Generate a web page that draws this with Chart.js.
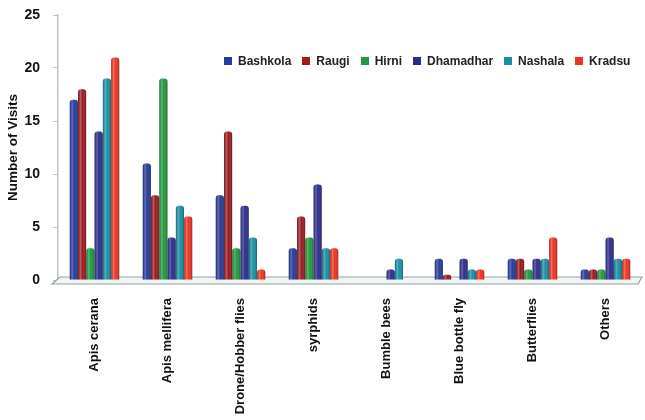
<!DOCTYPE html>
<html>
<head>
<meta charset="utf-8">
<script src="https://cdn.jsdelivr.net/npm/chart.js@4/dist/chart.umd.min.js"></script>
<style>
  html,body{margin:0;padding:0;background:#fff;}
  #wrap{position:relative;width:645px;height:420px;overflow:hidden;}
  #legend{position:absolute;left:224px;top:54px;display:flex;gap:11px;font:bold 12px "Liberation Sans",Arial,sans-serif;color:#222;}
  .lg{display:flex;align-items:center;}
  .lg i{display:inline-block;width:8px;height:8px;margin-right:6px;}
</style>
</head>
<body>
<div id="wrap">
  <canvas id="visits" width="645" height="420"></canvas>
  <div id="legend"></div>
</div>
<script>
// visitor groups on the x axis
const categories=['Apis cerana','Apis mellifera','Drone/Hobber flies','syrphids','Bumble bees','Blue bottle fly','Butterflies','Others'];

// visits per site
const bashkola =[17,11,8,3,0,2,2,1];
const raugi    =[18,8,14,6,0,0.5,2,1];
const hirni    =[3,19,3,4,0,0,1,1];
const dhamadhar=[14,4,7,9,1,2,2,4];
const nashala  =[19,7,4,3,2,1,2,2];
const kradsu   =[21,6,1,3,0,1,4,2];

const yTicks=[0,5,10,15,20,25];

const series=[
  {label:'Bashkola', data:bashkola, color:'#253a9c'},
  {label:'Raugi', data:raugi, color:'#9c1c22'},
  {label:'Hirni', data:hirni, color:'#1f9a3e'},
  {label:'Dhamadhar', data:dhamadhar, color:'#2b2b8e'},
  {label:'Nashala', data:nashala, color:'#1690a6'},
  {label:'Kradsu', data:kradsu, color:'#ef3322'}
];

const FONT='"Liberation Sans", Arial, sans-serif';

document.getElementById('legend').innerHTML=series.map(s=>
  `<span class="lg"><i style="background:${s.color}"></i>${s.label}</span>`).join('');

// grey 3d floor under the bars
const floorPlugin={
  id:'floor',
  beforeDatasetsDraw(chart){
    const {ctx,chartArea:a}=chart;
    ctx.save();
    ctx.beginPath();
    ctx.moveTo(a.left-6,a.bottom+4);
    ctx.lineTo(a.left+2,a.bottom-3);
    ctx.lineTo(a.right,a.bottom-3);
    ctx.lineTo(a.right-4,a.bottom+4);
    ctx.closePath();
    ctx.fillStyle='#f1f4f4';
    ctx.fill();
    ctx.strokeStyle='#93a3a3';
    ctx.lineWidth=1.2;
    ctx.stroke();
    ctx.restore();
  }
};

// cylinder shading laid over each bar
const shadePlugin={
  id:'shade',
  afterDatasetsDraw(chart){
    const ctx=chart.ctx;
    ctx.save();
    chart.data.datasets.forEach((ds,i)=>{
      chart.getDatasetMeta(i).data.forEach(el=>{
        const h=el.base-el.y;
        if(h<=0) return;
        const x0=el.x-el.width/2;
        const g=ctx.createLinearGradient(x0,0,x0+el.width,0);
        g.addColorStop(0,'rgba(0,0,0,0.25)');
        g.addColorStop(0.3,'rgba(255,255,255,0.28)');
        g.addColorStop(0.55,'rgba(255,255,255,0)');
        g.addColorStop(1,'rgba(0,0,0,0.35)');
        ctx.fillStyle=g;
        ctx.beginPath();
        ctx.roundRect(x0,el.y,el.width,h,[3,3,0,0]);
        ctx.fill();
      });
    });
    ctx.restore();
  }
};

new Chart(document.getElementById('visits'),{
  type:'bar',
  data:{
    labels:categories,
    datasets:series.map(s=>({
      label:s.label,data:s.data,backgroundColor:s.color,
      borderWidth:0,borderRadius:{topLeft:3,topRight:3},borderSkipped:'bottom',
      categoryPercentage:0.68,barPercentage:0.98
    }))
  },
  options:{
    responsive:false,animation:false,
    layout:{padding:{top:15,right:3,left:0,bottom:0}},
    plugins:{legend:{display:false},tooltip:{enabled:false}},
    scales:{
      x:{
        grid:{display:false,drawTicks:false},
        border:{display:false},
        ticks:{maxRotation:90,minRotation:90,padding:18,color:'#111',font:{family:FONT,size:13,weight:'bold'}},
        afterFit:s=>{s.height=140;}
      },
      y:{
        min:0,max:25,
        afterBuildTicks:s=>{s.ticks=yTicks.map(v=>({value:v}));},
        grid:{drawOnChartArea:false,tickLength:5,color:'#b8c4d0'},
        border:{color:'#b8c4d0',width:1.5},
        ticks:{padding:13,color:'#111',font:{family:FONT,size:14,weight:'bold'}},
        title:{display:true,text:'Number of Visits',color:'#111',padding:{top:5,bottom:0},font:{family:FONT,size:13.5,weight:'bold'}},
        afterFit:s=>{s.width=58;s.paddingTop=0;s.paddingBottom=0;}
      }
    }
  },
  plugins:[floorPlugin,shadePlugin]
});
</script>
</body>
</html>
